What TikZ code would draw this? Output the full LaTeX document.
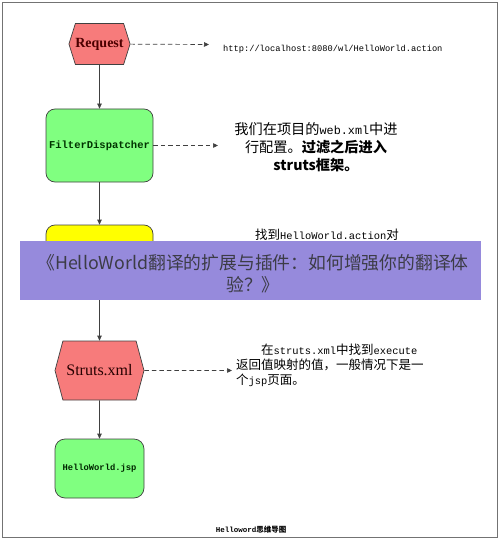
\documentclass[tikz,border=0pt]{standalone}
\usepackage{fontspec}
\setmainfont{Liberation Serif}
\setmonofont{Liberation Mono}
\newfontfamily\cjk{Noto Sans CJK SC}
\usetikzlibrary{shapes.symbols,arrows.meta}
\definecolor{hexred}{HTML}{F77B7B}
\definecolor{boxgreen}{HTML}{80FF80}
\definecolor{boxyellow}{HTML}{FFFF00}
\definecolor{edgegray}{HTML}{404040}
\definecolor{banner}{HTML}{968ADC}
\definecolor{bannertext}{HTML}{3C3C46}
\tikzset{
  hexnode/.style={signal, signal to=west and east, draw=edgegray, fill=hexred, line width=0.7pt, inner sep=0pt},
  roundbox/.style={rectangle, rounded corners=9pt, draw=edgegray, line width=0.7pt, minimum width=107pt, minimum height=73pt, inner sep=0pt},
  jspbox/.style={rectangle, rounded corners=10pt, draw=edgegray, line width=0.7pt, minimum width=89pt, minimum height=59pt, inner sep=0pt, fill=boxgreen},
  solidarrow/.style={draw=edgegray, line width=0.7pt, -{Triangle[length=5pt,width=4.5pt]}},
  dasharrow/.style={draw=edgegray, line width=0.7pt, dash pattern=on 4.5pt off 3pt, -{Triangle[length=5pt,width=4.5pt]}},
  note/.style={inner sep=0pt, text=black},
}
\begin{document}
\begin{tikzpicture}[x=1pt,y=-1pt]
\useasboundingbox (0,0) rectangle (500,540);
\draw[color=gray!90!black, line width=1pt] (2.5,2.5) rectangle (497.5,537.5);

% main nodes
\node[hexnode, minimum width=59pt, minimum height=41pt, signal pointer angle=145,
      text=red!30!black, font=\bfseries\fontsize{14}{16}\selectfont] (req) at (99.5,44) {Request};
\node[roundbox, fill=boxgreen, text=green!20!black,
      font=\ttfamily\bfseries\fontsize{10.5}{12}\selectfont] (fd) at (99.5,145.5) {FilterDispatcher};
\node[roundbox, fill=boxyellow] (ym) at (99.5,261.5) {};
\node[hexnode, minimum width=89pt, minimum height=59pt, signal pointer angle=150,
      text=red!15!black, font=\fontsize{16}{18}\selectfont] (sx) at (99.5,370.5) {Struts.xml};
\node[jspbox, text=green!15!black, font=\ttfamily\bfseries\fontsize{8.8}{10}\selectfont] (jsp) at (99.5,468.5) {HelloWorld.jsp};

% vertical connectors
\draw[solidarrow] (req) -- (fd);
\draw[solidarrow] (fd) -- (ym);
\draw[solidarrow] (ym) -- (sx);
\draw[solidarrow] (sx) -- (jsp);

% notes
\node[note, anchor=west, font=\ttfamily\fontsize{8.7}{10}\selectfont] (url) at (223,49) {http://localhost:8080/wl/HelloWorld.action};
\coordinate (e1) at (209,44.5);
\draw[dasharrow] (req) -- (e1);

\node[note, align=center, font=\cjk\fontsize{14.2}{18}\selectfont] (t1) at (316,147)
  {我们在项目的{\ttfamily\fontsize{11.8}{18}\selectfont web.xml}中进\\
   行配置。{\bfseries 过滤之后进入}\\
   {\bfseries struts框架。}};
\coordinate (e2) at (218,145.5);
\draw[dasharrow] (fd) -- (e2);

\node[note, anchor=west, font=\cjk\fontsize{12.5}{15}\selectfont] (t2) at (255,235)
  {找到{\ttfamily\fontsize{10.4}{15}\selectfont HelloWorld.action}对};

\node[note, align=left, anchor=north west, font=\cjk\fontsize{12.5}{15}\selectfont] (t3) at (236,343.5)
  {\hspace*{2em}在{\ttfamily\fontsize{10.4}{15}\selectfont struts.xml}中找到{\ttfamily\fontsize{10.4}{15}\selectfont execute}\\
   返回值映射的值，一般情况下是一\\
   个{\ttfamily\fontsize{10.4}{15}\selectfont jsp}页面。};
\coordinate (e3) at (232,370.5);
\draw[dasharrow] (sx) -- (e3);

% caption
\node[note, font=\bfseries\fontsize{7.5}{9}\selectfont] (cap) at (251,530)
  {{\ttfamily Helloword}{\cjk 思维导图}};

% banner overlay
\node[rectangle, fill=banner, minimum width=461pt, minimum height=59pt, inner sep=0pt] (bn) at (250.5,270.5) {};
\node[note, align=center, text=bannertext, font=\cjk\fontsize{17.8}{22}\selectfont] (bt) at (253,274)
  {《HelloWorld翻译的扩展与插件：如何增强你的翻译体\\验？》};
\end{tikzpicture}
\end{document}
